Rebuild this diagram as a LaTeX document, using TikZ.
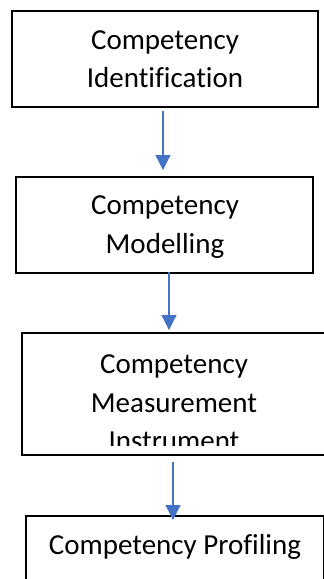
\documentclass[tikz,border=0pt]{standalone}
\usepackage{fontspec}
\setmainfont{Carlito}[Ligatures=NoCommon]
\usetikzlibrary{arrows.meta}
\definecolor{flowblue}{HTML}{4472C4}
\begin{document}
\begin{tikzpicture}[x=1pt, y=-1pt,
        stage/.style={draw=black, line width=1.8pt, rectangle, inner sep=0pt},
        caption/.style={align=center, inner sep=0pt, font=\fontsize{29}{38.5}\selectfont},
        flow/.style={draw=flowblue, line width=1.2pt, -{Triangle[width=15pt, length=15pt]}}]
    \useasboundingbox (0, 0) rectangle (324, 579);
    \clip (0, 0) rectangle (324, 579);

    \node[stage, minimum width=306pt, minimum height=96pt] (ident) at (165, 59) {};
    \node[stage, minimum width=297pt, minimum height=96pt] (model) at (164.5, 225) {};
    \node[stage, minimum width=304pt, minimum height=122pt] (measure) at (174, 394) {};
    \node[stage, minimum width=298pt, minimum height=96pt] (profile) at (175, 564) {};

    \node[caption] (identtext) at (165, 59) {Competency\\Identification};
    \node[caption] (modeltext) at (165, 227) {Competency\\Modelling};
    \begin{scope}
        \clip (22, 333) rectangle (326, 445);
        \node[caption] (measuretext) at (174, 403) {Competency\\Measurement\\Instrument};
    \end{scope}
    \node[caption] (profiletext) at (175, 547) {Competency Profiling};

    \coordinate (flowA) at (163, 111);
    \coordinate (flowB) at (163, 170);
    \coordinate (flowC) at (169, 272);
    \coordinate (flowD) at (169, 330);
    \coordinate (flowE) at (173, 462);
    \coordinate (flowF) at (173, 520);

    \draw[flow] (flowA) -- (flowB);
    \draw[flow] (flowC) -- (flowD);
    \draw[flow] (flowE) -- (flowF);
\end{tikzpicture}
\end{document}
